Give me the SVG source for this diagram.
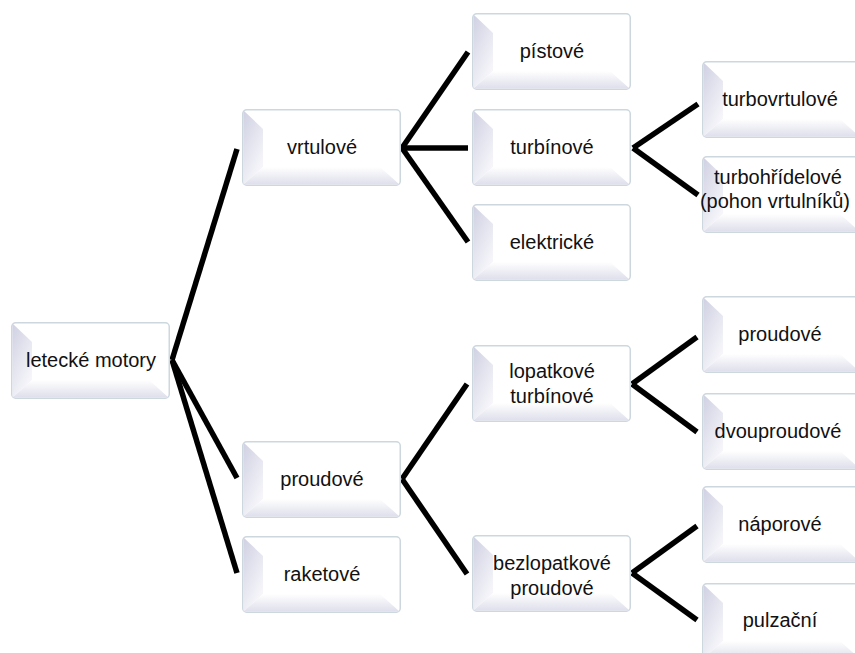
<svg xmlns="http://www.w3.org/2000/svg" xmlns:xlink="http://www.w3.org/1999/xlink" width="855" height="653" viewBox="0 0 855 653">
<defs>
<linearGradient id="gl" x1="0" y1="0" x2="0.6" y2="1">
<stop offset="0" stop-color="#cfd0e2"/>
<stop offset="0.5" stop-color="#e4e4ef"/>
<stop offset="1" stop-color="#f7f7fb"/>
</linearGradient>
<linearGradient id="gb" x1="0" y1="0" x2="0" y2="1">
<stop offset="0" stop-color="#ffffff"/>
<stop offset="1" stop-color="#dedfeb"/>
</linearGradient>
<g id="box">
<rect x="0.75" y="0.75" width="157.5" height="75.5" rx="4" fill="#ffffff" stroke="#cdd7de" stroke-width="1.5"/>
<polygon points="1.5,1.5 21,20 21,58 1.5,75.5" fill="url(#gl)"/>
<polygon points="1.5,75.5 21,58 138,58 157.5,75.5" fill="url(#gb)"/>
</g>
</defs>
<style>
text{font-family:"Liberation Sans",Arial,sans-serif;font-size:20px;fill:#111;text-anchor:middle}
.c line{stroke:#000;stroke-width:5.5;stroke-linecap:butt}
</style>
<rect width="855" height="653" fill="#ffffff"/>
<g class="c" id="connectors">
<line x1="172" y1="360" x2="237" y2="149"/>
<line x1="172" y1="360" x2="237" y2="478"/>
<line x1="172" y1="360" x2="237" y2="573"/>
<line x1="402" y1="148" x2="468" y2="52"/>
<line x1="400" y1="148" x2="468" y2="148"/>
<line x1="402" y1="148" x2="468" y2="242"/>
<line x1="633" y1="148" x2="698" y2="104"/>
<line x1="633" y1="148" x2="698" y2="195"/>
<line x1="402" y1="479" x2="467" y2="384"/>
<line x1="402" y1="479" x2="467" y2="574"/>
<line x1="632" y1="384" x2="697" y2="337"/>
<line x1="632" y1="384" x2="697" y2="432"/>
<line x1="632" y1="573" x2="697" y2="526"/>
<line x1="632" y1="573" x2="697" y2="620"/>
</g>
<g id="n-letecke"><use xlink:href="#box" x="11" y="322"/><text x="91" y="367">letecké motory</text></g>
<g id="n-vrtulove"><use xlink:href="#box" x="242" y="109"/><text x="322" y="154">vrtulové</text></g>
<g id="n-proudove1"><use xlink:href="#box" x="242" y="441"/><text x="322" y="486">proudové</text></g>
<g id="n-raketove"><use xlink:href="#box" x="242" y="536"/><text x="322" y="581">raketové</text></g>
<g id="n-pistove"><use xlink:href="#box" x="472" y="13"/><text x="552" y="58">pístové</text></g>
<g id="n-turbinove"><use xlink:href="#box" x="472" y="109"/><text x="552" y="154">turbínové</text></g>
<g id="n-elektricke"><use xlink:href="#box" x="472" y="204"/><text x="552" y="249">elektrické</text></g>
<g id="n-lopatkove"><use xlink:href="#box" x="472" y="345"/><text x="552" y="378">lopatkové</text><text x="552" y="403">turbínové</text></g>
<g id="n-bezlopatkove"><use xlink:href="#box" x="472" y="535"/><text x="552" y="570">bezlopatkové</text><text x="552" y="595">proudové</text></g>
<g id="n-turbovrtulove"><use xlink:href="#box" x="702" y="61"/><text x="780" y="106">turbovrtulové</text></g>
<g id="n-turbohridelove"><use xlink:href="#box" x="702" y="156"/><text x="778" y="184">turbohřídelové</text><text x="775" y="208">(pohon vrtulníků)</text></g>
<g id="n-proudove3"><use xlink:href="#box" x="702" y="296"/><text x="780" y="341">proudové</text></g>
<g id="n-dvouproudove"><use xlink:href="#box" x="702" y="393"/><text x="778" y="438">dvouproudové</text></g>
<g id="n-naporove"><use xlink:href="#box" x="702" y="486"/><text x="780" y="531">náporové</text></g>
<g id="n-pulzacni"><use xlink:href="#box" x="702" y="583"/><text x="780" y="627">pulzační</text></g>
</svg>
